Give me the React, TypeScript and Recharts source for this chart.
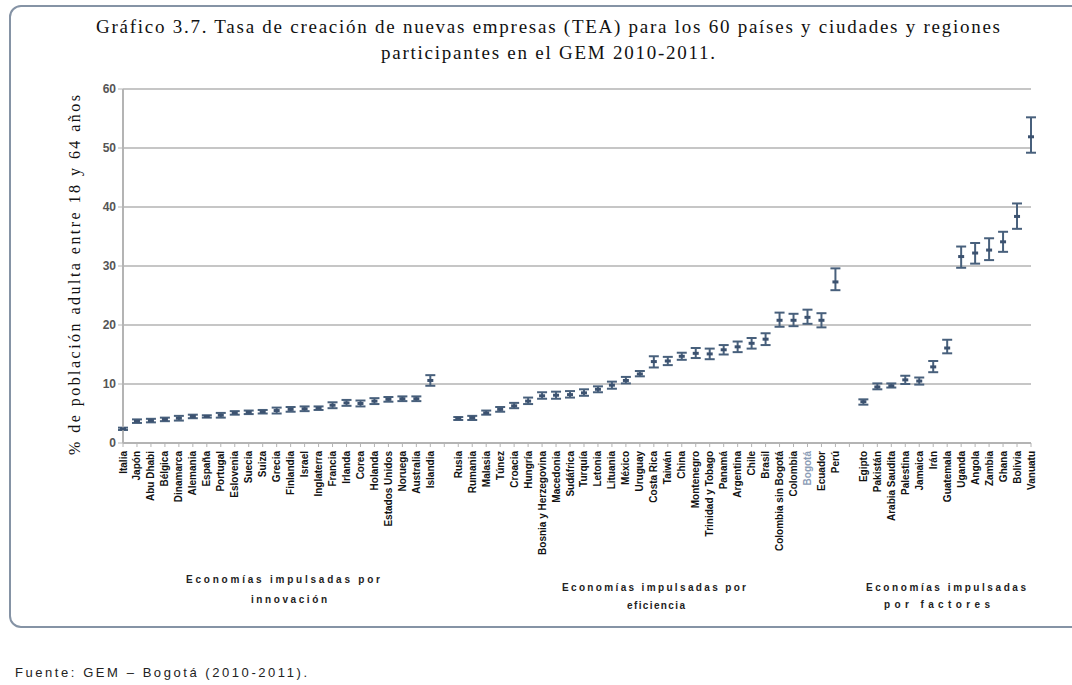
import React from 'react';
import { ComposedChart, Line, XAxis, YAxis, CartesianGrid, ErrorBar } from 'recharts';

// Economías impulsadas por innovación
const innovationNames = ['Italia', 'Japón', 'Abu Dhabi', 'Bélgica', 'Dinamarca', 'Alemania', 'España', 'Portugal', 'Eslovenia', 'Suecia', 'Suiza', 'Grecia', 'Finlandia', 'Israel', 'Inglaterra', 'Francia', 'Irlanda', 'Corea', 'Holanda', 'Estados Unidos', 'Noruega', 'Australia', 'Islandia'];
const innovationTEA = [2.4, 3.7, 3.8, 4.0, 4.2, 4.5, 4.5, 4.7, 5.1, 5.2, 5.3, 5.5, 5.7, 5.8, 5.9, 6.4, 6.8, 6.7, 7.1, 7.4, 7.5, 7.5, 10.6];
const innovationLow = [2.2, 3.4, 3.5, 3.7, 3.8, 4.2, 4.3, 4.3, 4.8, 4.9, 5.0, 5.0, 5.3, 5.4, 5.6, 5.9, 6.3, 6.2, 6.6, 7.0, 7.1, 7.1, 9.7];
const innovationHigh = [2.6, 4.0, 4.1, 4.3, 4.6, 4.8, 4.7, 5.1, 5.4, 5.5, 5.6, 6.0, 6.1, 6.2, 6.2, 6.9, 7.3, 7.2, 7.6, 7.8, 7.9, 7.9, 11.5];

// Economías impulsadas por eficiencia
const efficiencyNames = ['Rusia', 'Rumania', 'Malasia', 'Túnez', 'Croacia', 'Hungría', 'Bosnia y Herzegovina', 'Macedonia', 'Sudáfrica', 'Turquía', 'Letonia', 'Lituania', 'México', 'Uruguay', 'Costa Rica', 'Taiwán', 'China', 'Montenegro', 'Trinidad y Tobago', 'Panamá', 'Argentina', 'Chile', 'Brasil', 'Colombia sin Bogotá', 'Colombia', 'Bogotá', 'Ecuador', 'Perú'];
const efficiencyTEA = [4.2, 4.3, 5.1, 5.7, 6.3, 7.1, 8.0, 8.1, 8.2, 8.5, 9.1, 9.8, 10.6, 11.7, 13.8, 13.9, 14.7, 15.2, 15.1, 15.8, 16.3, 16.9, 17.6, 20.8, 20.8, 21.3, 20.8, 27.3];
const efficiencyLow = [3.9, 3.9, 4.8, 5.3, 5.9, 6.6, 7.5, 7.5, 7.7, 8.0, 8.6, 9.2, 10.1, 11.3, 12.8, 13.2, 14.1, 14.4, 14.2, 15.0, 15.4, 16.0, 16.6, 19.7, 19.8, 20.2, 19.6, 25.9];
const efficiencyHigh = [4.4, 4.6, 5.5, 6.1, 6.8, 7.7, 8.6, 8.7, 8.8, 9.1, 9.6, 10.4, 11.2, 12.2, 14.7, 14.6, 15.3, 16.1, 16.0, 16.6, 17.2, 17.8, 18.6, 22.1, 21.9, 22.6, 22.0, 29.6];

// Economías impulsadas por factores
const factorNames = ['Egipto', 'Pakistán', 'Arabia Saudita', 'Palestina', 'Jamaica', 'Irán', 'Guatemala', 'Uganda', 'Angola', 'Zambia', 'Ghana', 'Bolivia', 'Vanuatu'];
const factorTEA = [7.0, 9.5, 9.7, 10.7, 10.5, 12.9, 16.1, 31.6, 32.2, 32.7, 34.1, 38.4, 51.9];
const factorLow = [6.5, 9.1, 9.4, 10.0, 9.9, 12.0, 15.2, 29.7, 30.4, 31.0, 32.4, 36.3, 49.2];
const factorHigh = [7.4, 10.1, 10.1, 11.4, 11.1, 13.9, 17.5, 33.3, 33.9, 34.7, 35.8, 40.6, 55.2];

const yTicks = [0, 10, 20, 30, 40, 50, 60];

const INK = '#48607c';

type Row = { name: string; tea: number | null; err: [number, number] | null };

function buildRows(names: string[], tea: number[], low: number[], high: number[]): Row[] {
  return names.map((n, i) => ({
    name: n,
    tea: tea[i],
    err: [+(tea[i] - low[i]).toFixed(2), +(high[i] - tea[i]).toFixed(2)] as [number, number],
  }));
}

const data: Row[] = [
  ...buildRows(innovationNames, innovationTEA, innovationLow, innovationHigh),
  { name: ' ', tea: null, err: null },
  ...buildRows(efficiencyNames, efficiencyTEA, efficiencyLow, efficiencyHigh),
  { name: '  ', tea: null, err: null },
  ...buildRows(factorNames, factorTEA, factorLow, factorHigh),
];

const XTick = (props: any) => {
  const { x, y, payload } = props;
  const v: string = String(payload?.value ?? '');
  if (!v.trim()) return <g />;
  const isBog = v === 'Bogotá';
  return (
    <text
      transform={`translate(${x + 3.5},${y + 2}) rotate(-90)`}
      x={0}
      y={0}
      textAnchor="end"
      fontSize={10}
      fontWeight="bold"
      fontFamily="'Liberation Sans', Arial, sans-serif"
      fill={isBog ? '#8b9cb6' : '#111'}
    >
      {v}
    </text>
  );
};

const CenterDot = (props: any) => {
  const { cx, cy, payload, index } = props;
  if (cx == null || cy == null || payload?.tea == null) return <g key={`d${index}`} />;
  return <rect key={`d${index}`} x={cx - 3} y={cy - 1.5} width={6} height={3} fill="#3c5270" />;
};

export default function App() {
  const W = 1072;
  const H = 685;
  return (
    <div style={{ position: 'absolute', left: 0, top: 0, width: W, height: H, background: '#fff', overflow: 'hidden' }}>
      <div
        style={{
          position: 'absolute',
          left: 9,
          top: 5,
          width: 1100,
          height: 623,
          border: '2px solid #8593a5',
          borderRadius: 12,
          boxSizing: 'border-box',
        }}
      />
      <div style={{ position: 'absolute', left: 0, top: 0 }}>
        <ComposedChart
          width={W}
          height={H}
          data={data}
          margin={{ top: 89, right: 41, bottom: 112, left: 78 }}
        >
          <CartesianGrid vertical={false} stroke="#c6c6c6" strokeWidth={2} />
          <XAxis
            dataKey="name"
            type="category"
            interval={0}
            height={130}
            tick={<XTick />}
            tickSize={4}
            axisLine={{ stroke: '#b4b4b4', strokeWidth: 2 }}
            tickLine={{ stroke: '#b4b4b4' }}
          />
          <YAxis
            type="number"
            domain={[0, 60]}
            ticks={yTicks}
            width={45}
            tickSize={5}
            tick={{ fontSize: 12, fill: '#555', fontFamily: "'Liberation Sans', Arial, sans-serif", fontWeight: 'bold' }}
            axisLine={{ stroke: '#b4b4b4', strokeWidth: 2 }}
            tickLine={{ stroke: '#b4b4b4' }}
          />
          <Line
            dataKey="tea"
            stroke="none"
            isAnimationActive={false}
            dot={<CenterDot />}
            activeDot={false}
            legendType="none"
          >
            <ErrorBar dataKey="err" direction="y" width={5} stroke={INK} strokeWidth={2} />
          </Line>
        </ComposedChart>
      </div>
      <svg width={W} height={H} style={{ position: 'absolute', left: 0, top: 0, pointerEvents: 'none' }}>
        <text x={96} y={33} fontSize={19} fontFamily="'Liberation Serif', 'DejaVu Serif', serif" fill="#111" textLength={904} lengthAdjust="spacing">
          Gráfico 3.7. Tasa de creación de nuevas empresas (TEA) para los 60 países y ciudades y regiones
        </text>
        <text x={381} y={59} fontSize={19} fontFamily="'Liberation Serif', 'DejaVu Serif', serif" fill="#111" textLength={334} lengthAdjust="spacing">
          participantes en el GEM 2010-2011.
        </text>
        <text
          transform="translate(80,275) rotate(-90)"
          textAnchor="middle"
          fontSize={16}
          fontFamily="'Liberation Serif', 'DejaVu Serif', serif"
          fill="#111"
          textLength={360}
          lengthAdjust="spacing"
        >
          % de población adulta entre 18 y 64 años
        </text>
        <g fontSize={10} fontWeight="bold" fontFamily="'Liberation Sans', Arial, sans-serif" fill="#222">
          <text x={186} y={583} textLength={194} lengthAdjust="spacing">Economías impulsadas por</text>
          <text x={251} y={603} textLength={76} lengthAdjust="spacing">innovación</text>
          <text x={562} y={591} textLength={184} lengthAdjust="spacing">Economías impulsadas por</text>
          <text x={627} y={609} textLength={58} lengthAdjust="spacing">eficiencia</text>
          <text x={866} y={591} textLength={160} lengthAdjust="spacing">Economías impulsadas</text>
          <text x={884} y={608} textLength={106} lengthAdjust="spacing">por factores</text>
        </g>
        <text x={15} y={677} fontSize={13} fontFamily="'Liberation Sans', Arial, sans-serif" fill="#222" textLength={292} lengthAdjust="spacing">
          Fuente: GEM – Bogotá (2010-2011).
        </text>
      </svg>
    </div>
  );
}
